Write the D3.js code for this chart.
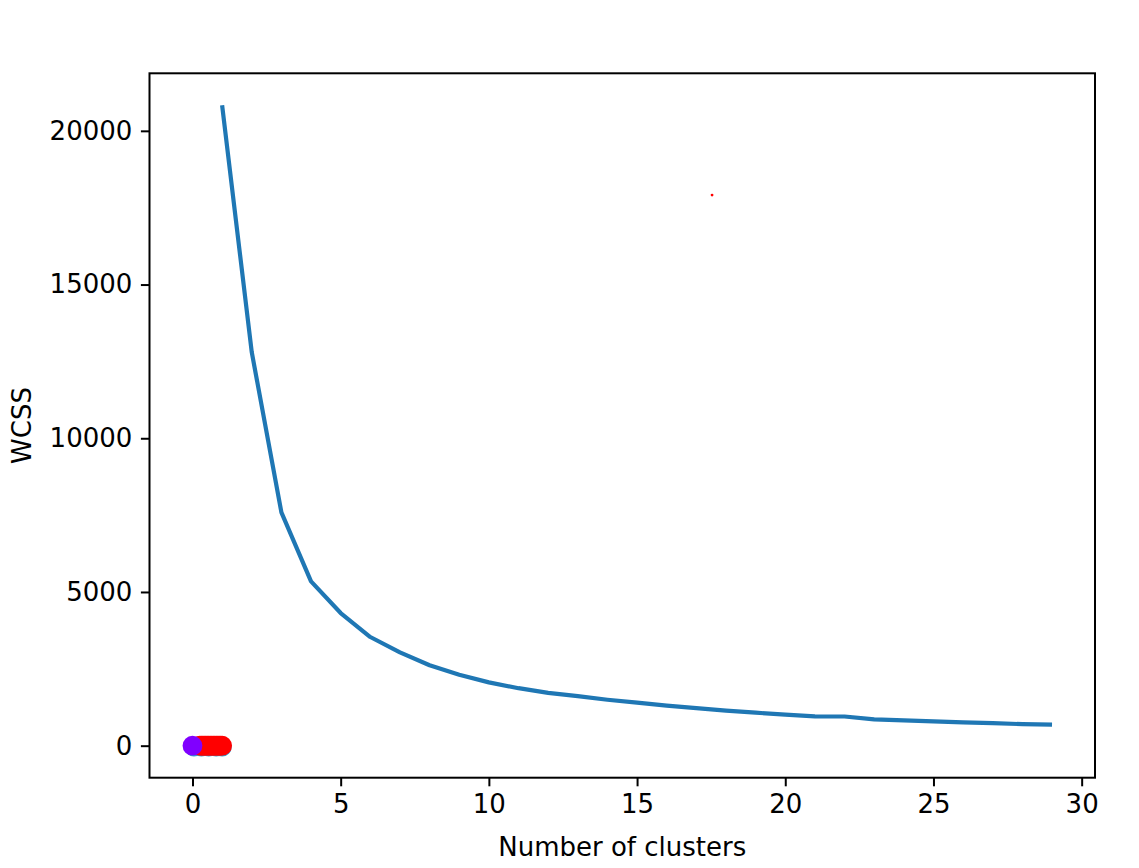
<!DOCTYPE html>
<html>
<head>
<meta charset="utf-8">
<script src="https://cdn.jsdelivr.net/npm/d3@7"></script>
<style>
  html, body { margin: 0; padding: 0; background: #fff; }
  svg { display: block; font-family: "DejaVu Sans", sans-serif; }
</style>
</head>
<body>
<svg id="chart" width="1139" height="868"></svg>
<script>
// ---- data ----
const clusters = [1,2,3,4,5,6,7,8,9,10,11,12,13,14,15,16,17,18,19,20,21,22,23,24,25,26,27,28,29];
const wcss = [20830,12800,7590,5345,4315,3535,3035,2615,2305,2060,1870,1720,1610,1495,1400,1305,1220,1140,1073,1010,955,950,855,822,790,757,731,700,683];
const xTicks = [0,5,10,15,20,25,30];
const yTicks = [0,5000,10000,15000,20000];
// scatter points (normalised data) coloured by cluster
const scatterBlueX = [0.05,0.3,0.55,0.8,1.0];
const scatterBlueY = [-40,-40,-40,-40,-40];
const scatterRedX = [0.25,0.3,0.35,0.4,0.45,0.5,0.55,0.6,0.65,0.7,0.75,0.8,0.85,0.9,0.95,1.0];
const scatterRedY = [0,0,0,0,0,0,0,0,0,0,0,0,0,0,0,0];
const scatterPurpleX = [0.0];
const scatterPurpleY = [0];
const centroidX = [17.53];
const centroidY = [17910];

// ---- layout ----
const svg = d3.select("#chart");
const L = 149.5, R = 1095, T = 73.3, B = 777.7;
const x = d3.scaleLinear().domain([-1.45, 30.45]).range([L, R]);
const y = d3.scaleLinear().domain([-1041.5, 21871.5]).range([B, T]);

const fs = 26;

// line
const line = d3.line().x((d,i) => x(clusters[i])).y(d => y(d));
svg.append("path").datum(wcss)
  .attr("d", line)
  .attr("fill", "none")
  .attr("stroke", "#1f77b4")
  .attr("stroke-width", 4.2)
  .attr("stroke-linejoin", "round")
  .attr("stroke-linecap", "butt");

// scatter
function dots(xs, ys, col, r) {
  svg.append("g").selectAll("circle").data(xs).join("circle")
    .attr("cx", (d) => x(d))
    .attr("cy", (d,i) => y(ys[i]))
    .attr("r", r)
    .attr("fill", col);
}
dots(scatterBlueX, scatterBlueY, "#2c9fd0", 9.6);
dots(scatterRedX, scatterRedY, "#ff0000", 9.9);
dots(scatterPurpleX, scatterPurpleY, "#8000ff", 9.9);
dots(centroidX, centroidY, "#ff0000", 1.4);

// axes
const xAxis = d3.axisBottom(x).tickValues(xTicks).tickSize(8.6).tickPadding(8.6).tickFormat(d3.format("d"));
const yAxis = d3.axisLeft(y).tickValues(yTicks).tickSize(8.6).tickPadding(8.6).tickFormat(d3.format("d"));

const gx = svg.append("g").attr("transform", `translate(0,${B})`).call(xAxis);
const gy = svg.append("g").attr("transform", `translate(${L},0)`).call(yAxis);
[gx, gy].forEach(g => {
  g.select(".domain").remove();
  g.selectAll(".tick line").attr("stroke", "#000").attr("stroke-width", 2);
  g.selectAll(".tick text").attr("fill", "#000").style("font-size", fs + "px").style("font-family", "DejaVu Sans");
});

// frame
svg.append("rect").attr("x", L).attr("y", T).attr("width", R - L).attr("height", B - T)
  .attr("fill", "none").attr("stroke", "#000").attr("stroke-width", 2);

// labels
svg.append("text").attr("x", (L + R) / 2).attr("y", 856)
  .attr("text-anchor", "middle").style("font-size", fs + "px").text("Number of clusters");
svg.append("text").attr("transform", `translate(31,${(T + B) / 2}) rotate(-90)`)
  .attr("text-anchor", "middle").style("font-size", fs + "px").text("WCSS");
</script>
</body>
</html>
